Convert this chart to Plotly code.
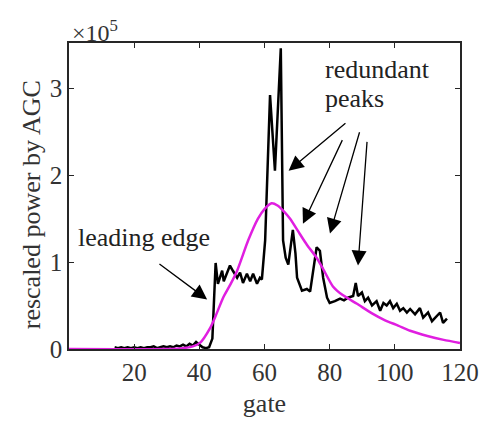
import plotly.graph_objects as go

# Measured waveform (rescaled power by AGC, in units of 1e5)
gate_meas = [14, 15, 16, 17, 18, 19, 20, 21, 22, 23, 24, 25, 26, 27, 28, 29, 30, 31, 32, 33,
             34, 35, 36, 37, 38, 39, 40, 41, 42, 43, 44, 45, 45.7, 47, 47.5, 48.5, 49.4, 50.3,
             51.6, 52.5, 53.4, 54.6, 55.6, 56.5, 57.7, 58.6, 59.2, 60.2, 61.7, 63.2, 65, 65.7,
             66.5, 67.3, 68.7, 69.5, 70, 71.5, 73, 74, 75, 76, 77, 78, 79.2, 80, 81.6, 83.2,
             84.4, 85.6, 87.2, 88, 88.7, 89.9, 90.8, 91.8, 93, 94.4, 95.5, 96.5, 97.5, 98.5,
             99.5, 100.6, 101.6, 102.6, 103.7, 104.7, 106.2, 107.7, 108.7, 110.2, 111.4,
             112.9, 113.9, 114.8, 116]
power_meas = [0.02, 0.01, 0.02, 0.01, 0.02, 0.01, 0.02, 0.01, 0.02, 0.01, 0.02, 0.02, 0.03,
              0.01, 0.02, 0.03, 0.02, 0.03, 0.02, 0.04, 0.03, 0.05, 0.03, 0.06, 0.04, 0.08,
              0.05, 0.02, 0.01, 0.02, 0.12, 0.99, 0.75, 0.90, 0.78, 0.865, 0.96, 0.90, 0.82,
              0.88, 0.76, 0.865, 0.78, 0.865, 0.75, 0.82, 0.80, 1.25, 2.92, 2.05, 3.46, 1.25,
              1.05, 0.97, 1.37, 1.10, 0.82, 0.67, 0.69, 0.66, 0.93, 1.17, 1.13, 0.82, 0.59,
              0.53, 0.55, 0.58, 0.56, 0.59, 0.61, 0.76, 0.61, 0.65, 0.55, 0.59, 0.50, 0.55,
              0.44, 0.53, 0.50, 0.55, 0.47, 0.52, 0.44, 0.47, 0.42, 0.46, 0.40, 0.47, 0.36,
              0.42, 0.32, 0.38, 0.42, 0.30, 0.35]

# Fitted model waveform
gate_model = [0, 30, 35, 38, 40.2, 43.3, 45, 47.3, 49.5, 51.6, 55, 58, 60, 62.2, 64, 66,
              67.8, 70.9, 73, 76, 78, 81, 84, 88.4, 93, 97, 101, 104.7, 110, 115, 120]
power_model = [0.0, 0.0, 0.01, 0.03, 0.07, 0.24, 0.38, 0.59, 0.74, 0.90, 1.25, 1.50, 1.61,
               1.676, 1.65, 1.58, 1.50, 1.32, 1.20, 1.05, 0.92, 0.72, 0.62, 0.52, 0.41,
               0.33, 0.27, 0.21, 0.15, 0.105, 0.07]

x_ticks = [20, 40, 60, 80, 100, 120]
y_ticks = [0, 1, 2, 3]

FONT = "Liberation Serif"
AX = "#262626"
TXT = "#222222"

fig = go.Figure()
fig.add_trace(go.Scatter(x=gate_meas, y=power_meas, mode="lines",
                         line=dict(color="black", width=2.5), showlegend=False))
fig.add_trace(go.Scatter(x=gate_model, y=power_model, mode="lines",
                         line=dict(color="#E01EE0", width=2.5, shape="spline", smoothing=0.6),
                         showlegend=False))

arrow_style = dict(showarrow=True, arrowhead=2, arrowsize=2.3, arrowwidth=1.3,
                   arrowcolor="black", xref="x", yref="y", axref="x", ayref="y", text="")
arrows = [
    ((42.4, 0.57), (27.3, 0.99)),
    ((67.4, 2.05), (85.3, 2.61)),
    ((71.8, 1.44), (84.1, 2.42)),
    ((80.1, 1.33), (89.3, 2.51)),
    ((88.7, 0.96), (91.5, 2.40)),
]
for (hx, hy), (tx, ty) in arrows:
    fig.add_annotation(x=hx, y=hy, ax=tx, ay=ty, **arrow_style)

fig.add_annotation(x=23.0, y=1.28, text="leading edge", showarrow=False,
                   font=dict(family=FONT, size=26, color=TXT), xref="x", yref="y")
fig.add_annotation(x=78.0, y=3.21, text="redundant", showarrow=False, xanchor="left",
                   font=dict(family=FONT, size=26, color=TXT), xref="x", yref="y")
fig.add_annotation(x=78.0, y=2.88, text="peaks", showarrow=False, xanchor="left",
                   font=dict(family=FONT, size=26, color=TXT), xref="x", yref="y")
fig.add_annotation(x=0, y=1, xref="paper", yref="paper", xanchor="left", yanchor="bottom",
                   text="×10<sup>5</sup>", showarrow=False, xshift=1, yshift=-5,
                   font=dict(family=FONT, size=24, color="#333"))
# y-axis title (placed as rotated text to match the reference's vertical offset)
fig.add_annotation(x=-0.097, y=0.47, xref="paper", yref="paper", xanchor="center",
                   yanchor="middle", textangle=-90, text="rescaled power by AGC",
                   showarrow=False, font=dict(family=FONT, size=26, color="#333"))

axis_common = dict(showline=True, linecolor=AX, linewidth=1.6, mirror="ticks",
                   ticks="inside", ticklen=5, tickwidth=1.3, tickcolor=AX,
                   showgrid=False, zeroline=False, automargin=False,
                   tickfont=dict(family=FONT, size=25, color="#333"))

fig.update_xaxes(range=[0, 120], tickvals=x_ticks,
                 title=dict(text="gate", font=dict(family=FONT, size=26, color="#333"), standoff=9),
                 **axis_common)
fig.update_yaxes(range=[0, 3.52], tickvals=y_ticks, **axis_common)

fig.update_layout(width=480, height=421, margin=dict(l=69, r=20, t=43, b=72),
                  paper_bgcolor="white", plot_bgcolor="white",
                  font=dict(family=FONT))

fig.write_html("out.html")
